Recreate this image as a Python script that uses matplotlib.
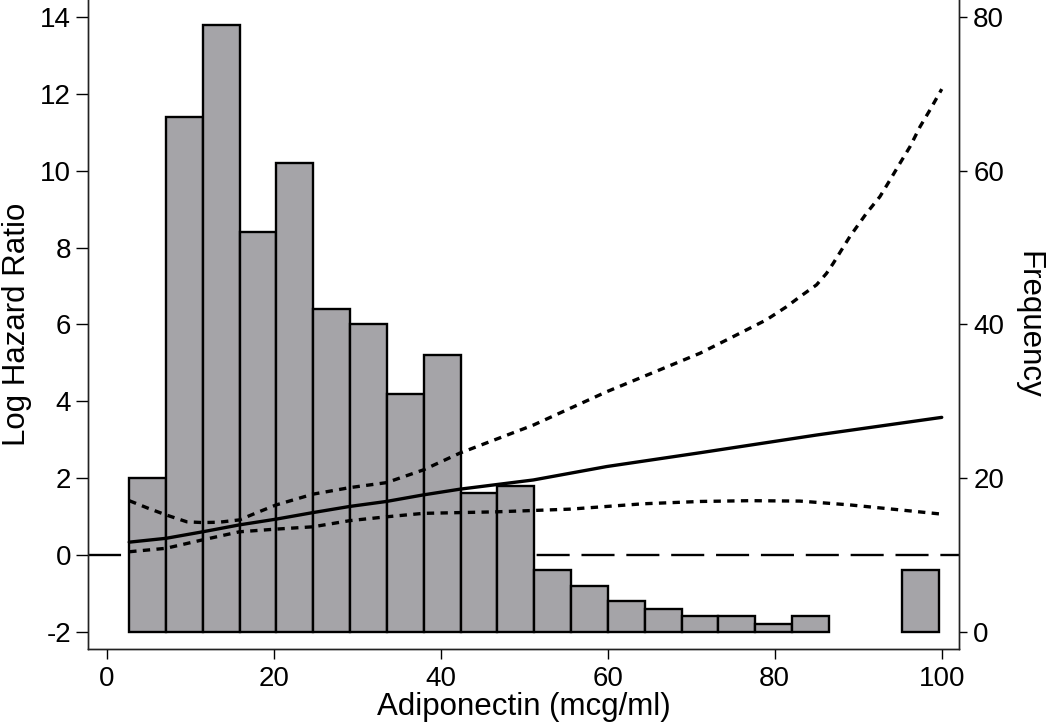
import numpy as np
import matplotlib
matplotlib.use('Agg')
import matplotlib.pyplot as plt
import matplotlib.transforms as mtransforms

plt.rcParams['font.family'] = ['Liberation Sans', 'DejaVu Sans']
plt.rcParams['axes.unicode_minus'] = False

# ---- histogram of adiponectin (frequency, right axis) ----
bin_lo, bin_hi = 2.7, 99.7
counts = [20, 67, 79, 52, 61, 42, 40, 31, 36, 18, 19, 8, 6, 4, 3, 2, 2, 1, 2, 0, 0, 8]

# ---- spline estimate of log hazard ratio (left axis) ----
est_x = [2.7, 7.1, 11.5, 15.9, 20.3, 24.7, 29.1, 33.5, 37.9, 42.3, 51.1, 59.9, 71.1, 85.0, 100.0]
est_y = [0.33, 0.43, 0.60, 0.78, 0.93, 1.10, 1.26, 1.39, 1.56, 1.71, 1.95, 2.30, 2.66, 3.12, 3.58]

upper_x = [2.7, 5.0, 7.1, 9.6, 11.5, 13.5, 15.9, 18.0, 20.3, 24.7, 29.1, 33.5, 37.9, 42.3, 51.1, 59.9,
           71.05, 75.0, 79.0, 81.4, 83.0, 85.0, 86.2, 87.0, 89.0, 91.0, 92.6, 93.8, 95.0, 96.2, 97.4, 98.6, 100.0]
upper_y = [1.41, 1.21, 1.04, 0.86, 0.84, 0.85, 0.91, 1.10, 1.30, 1.58, 1.75, 1.88, 2.21, 2.65, 3.38, 4.25,
           5.25, 5.68, 6.12, 6.46, 6.72, 7.03, 7.33, 7.59, 8.29, 8.90, 9.33, 9.76, 10.20, 10.63, 11.15, 11.59, 12.13]

lower_x = [2.7, 7.1, 11.5, 15.9, 20.3, 24.7, 29.1, 33.5, 37.9, 46.7, 55.5, 64.3, 71.1, 77.0, 83.0, 89.0, 95.0, 100.0]
lower_y = [0.08, 0.17, 0.39, 0.60, 0.67, 0.73, 0.89, 0.99, 1.08, 1.12, 1.19, 1.33, 1.39, 1.41, 1.40, 1.30, 1.17, 1.06]

x_ticks = [0, 20, 40, 60, 80, 100]
y_ticks = [-2, 0, 2, 4, 6, 8, 10, 12, 14]
f_ticks = [0, 20, 40, 60, 80]

# ---- figure ----
fig = plt.figure(figsize=(10.5, 7.24), dpi=100)
ax = fig.add_axes([0.0841, 0.1032, 0.8295, 0.8968])
ax2 = ax.twinx()

y_lo, y_hi = -2.46, 14.45
ax.set_xlim(-2.2, 102.1)
ax.set_ylim(y_lo, y_hi)
# frequency axis aligned so that 0..80 sits on -2..14
ax2.set_ylim((y_lo + 2) * 5, (y_hi + 2) * 5)

# reference line at 0, behind the bars
trans = mtransforms.blended_transform_factory(ax2.transAxes, ax.transData)
ax2.plot([0, 1], [0, 0], transform=trans, color='black', linewidth=1.7,
         linestyle=(0, (14, 5)), zorder=1)

edges = np.linspace(bin_lo, bin_hi, len(counts) + 1)
counts_arr = np.array(counts)
keep = counts_arr > 0
ax2.bar(edges[:-1][keep], counts_arr[keep], width=edges[1] - edges[0], align='edge',
        color='#a5a4a8', edgecolor='black', linewidth=1.7, zorder=2)

# curves drawn on top
ax.set_zorder(ax2.get_zorder() + 1)
ax.patch.set_visible(False)
ax.plot(est_x, est_y, color='black', linewidth=2.4, solid_capstyle='round')
ax.plot(upper_x, upper_y, color='black', linewidth=2.4, linestyle=(0, (2.2, 1.9)))
ax.plot(lower_x, lower_y, color='black', linewidth=2.4, linestyle=(0, (2.2, 1.9)))

# axes styling
for a in (ax, ax2):
    a.spines['top'].set_visible(False)
    for s in ('left', 'right', 'bottom'):
        a.spines[s].set_linewidth(1.0)
        a.spines[s].set_color('#222222')

ax.set_xticks(x_ticks)
ax.set_yticks(y_ticks)
ax2.set_yticks(f_ticks)
ax.tick_params(axis='x', labelsize=20, length=7, width=1.0, pad=5)
ax.tick_params(axis='y', labelsize=20, length=8.5, width=1.0, pad=4)
ax2.tick_params(axis='y', labelsize=20, length=6, width=1.0, pad=4)

ax.set_xlabel('Adiponectin (mcg/ml)', fontsize=22.5, labelpad=0)
ax.set_ylabel('Log Hazard Ratio', fontsize=22.5, labelpad=6)
ax2.set_ylabel('Frequency', fontsize=22.5, rotation=-90, labelpad=28)

fig.savefig('out.png', dpi=100)
